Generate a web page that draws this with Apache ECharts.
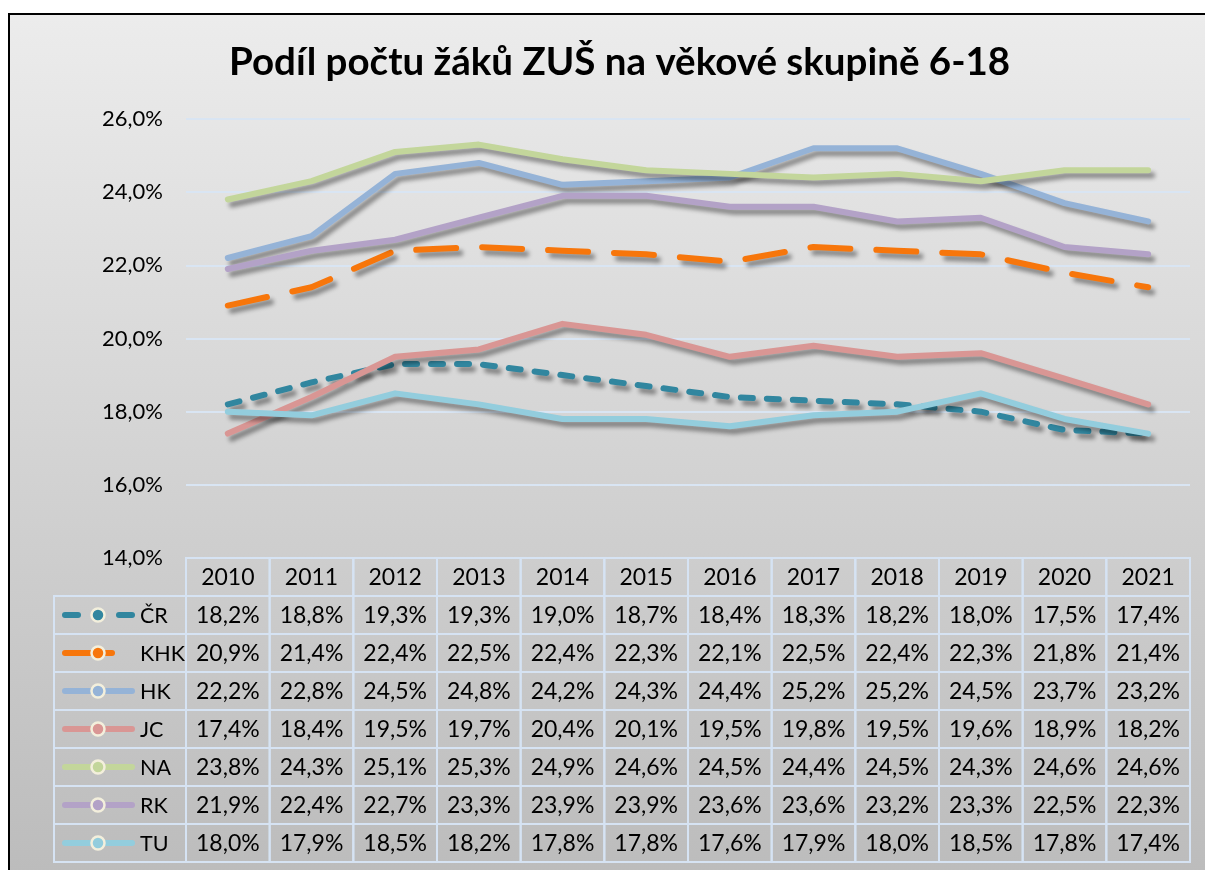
<!DOCTYPE html>
<html>
<head>
<meta charset="utf-8">
<script src="https://cdn.jsdelivr.net/npm/echarts@6/dist/echarts.min.js"></script>
<style>
html, body { margin: 0; padding: 0; background: #fff; overflow: hidden; }
#bg { position: fixed; left: 8px; top: 13px; right: -300px; bottom: -300px; border: 2px solid #000;
      background: linear-gradient(to bottom, #ececec 0px, #bcbcbc 857px, #bcbcbc 100%); }
#main { position: absolute; left: 0; top: 0; width: 1205px; height: 870px; }
</style>
</head>
<body>
<div id="bg"></div>
<div id="main"></div>
<script>
// data
var roky = ['2010','2011','2012','2013','2014','2015','2016','2017','2018','2019','2020','2021'];
var nazvy = ['ČR','KHK','HK','JC','NA','RK','TU'];
var CR  = [18.2, 18.8, 19.3, 19.3, 19.0, 18.7, 18.4, 18.3, 18.2, 18.0, 17.5, 17.4];
var KHK = [20.9, 21.4, 22.4, 22.5, 22.4, 22.3, 22.1, 22.5, 22.4, 22.3, 21.8, 21.4];
var HK  = [22.2, 22.8, 24.5, 24.8, 24.2, 24.3, 24.4, 25.2, 25.2, 24.5, 23.7, 23.2];
var JC  = [17.4, 18.4, 19.5, 19.7, 20.4, 20.1, 19.5, 19.8, 19.5, 19.6, 18.9, 18.2];
var NA  = [23.8, 24.3, 25.1, 25.3, 24.9, 24.6, 24.5, 24.4, 24.5, 24.3, 24.6, 24.6];
var RK  = [21.9, 22.4, 22.7, 23.3, 23.9, 23.9, 23.6, 23.6, 23.2, 23.3, 22.5, 22.3];
var TU  = [18.0, 17.9, 18.5, 18.2, 17.8, 17.8, 17.6, 17.9, 18.0, 18.5, 17.8, 17.4];
var osaMin = 14, osaMax = 26, osaKrok = 2;

// styles
var barvy = ['#31869f', '#f7760b', '#95b3d7', '#d99694', '#c3d69b', '#b3a2c7', '#93cddd'];
var typyCar = [[12, 14], [40, 26], 'solid', 'solid', 'solid', 'solid', 'solid'];
var pismo = 'Lato, "Open Sans", sans-serif';
var ramecek = '#d6e3f3';

var fmt = function (v) {
	return v.toFixed(1).replace('.', ',') + '%';
};

var graf = function () {
	var myChart = echarts.init(document.getElementById('main'));
	var radky = [CR, KHK, HK, JC, NA, RK, TU];

	// lines
	var series = [];
	for (var i = 0; i < nazvy.length; i++) {
		series.push({
			name: nazvy[i],
			type: 'line',
			xAxisIndex: 0,
			yAxisIndex: 0,
			data: radky[i],
			symbol: 'none',
			z: 3 + i,
			lineStyle: {
				color: barvy[i],
				width: 6,
				type: typyCar[i],
				cap: 'round',
				join: 'round',
				shadowColor: 'rgba(0,0,0,0.4)',
				shadowBlur: 4,
				shadowOffsetX: 4,
				shadowOffsetY: 5
			}
		});
	}

	// data table cells (row 0 = years)
	var bunky = [];
	roky.forEach(function (r, i) { bunky.push([i, 0, 0]); });
	radky.forEach(function (row, s) {
		row.forEach(function (v, i) { bunky.push([i, s + 1, v]); });
	});
	series.push({
		type: 'custom',
		xAxisIndex: 1,
		yAxisIndex: 1,
		data: bunky,
		renderItem: function (params, api) {
			var x = api.value(0), r = api.value(1);
			var c = api.coord([x, r]);
			var sz = api.size([1, 1]);
			var txt = r === 0 ? roky[x] : fmt(api.value(2));
			return {
				type: 'group',
				children: [{
					type: 'rect',
					shape: { x: c[0] - sz[0] / 2, y: c[1] - sz[1] / 2, width: sz[0], height: sz[1] },
					style: { fill: 'none', stroke: ramecek, lineWidth: 2 }
				}, {
					type: 'text',
					style: { text: txt, x: c[0], y: c[1] + 1, align: 'center', verticalAlign: 'middle',
						fontSize: 23, fontFamily: pismo, fill: '#000' }
				}]
			};
		}
	});

	// legend column of the table
	var legenda = [];
	nazvy.forEach(function (n, s) { legenda.push([0, s + 1, s]); });
	series.push({
		type: 'custom',
		xAxisIndex: 1,
		yAxisIndex: 1,
		data: legenda,
		renderItem: function (params, api) {
			var c = api.coord([api.value(0), api.value(1)]);
			var sz = api.size([1, 1]);
			var s = api.value(2);
			var x0 = 54, x1 = c[0] - sz[0] / 2, yc = c[1];
			var col = barvy[s];
			var deti = [{
				type: 'rect',
				shape: { x: x0, y: yc - sz[1] / 2, width: x1 - x0, height: sz[1] },
				style: { fill: 'none', stroke: ramecek, lineWidth: 2 }
			}];
			var usek = function (a, b) {
				deti.push({ type: 'line', shape: { x1: a, y1: yc, x2: b, y2: yc },
					style: { stroke: col, lineWidth: 6, lineCap: 'round' } });
			};
			if (s === 0) { usek(65, 78); usek(119, 132); }
			else if (s === 1) { usek(65, 112); }
			else { usek(65, 132); }
			deti.push({ type: 'circle', shape: { cx: 98, cy: yc, r: 6.5 },
				style: { fill: col, stroke: '#f3efdc', lineWidth: 2.5 } });
			deti.push({ type: 'text', style: { text: nazvy[s], x: 140, y: yc + 1, align: 'left',
				verticalAlign: 'middle', fontSize: 21.5, fontFamily: pismo, fill: '#000' } });
			return { type: 'group', children: deti };
		}
	});

	var option = {
		animation: false,
		title: {
			text: 'Podíl počtu žáků ZUŠ na věkové skupině 6-18',
			left: 224,
			top: 38,
			textStyle: { fontFamily: pismo, fontWeight: 'bold', fontSize: 38.5, color: '#000' }
		},
		grid: [
			{ left: 186, top: 119, width: 1004, height: 439 },
			{ left: 186, top: 558, width: 1004, height: 304 }
		],
		xAxis: [
			{ type: 'category', gridIndex: 0, data: roky, boundaryGap: true, show: false },
			{ type: 'category', gridIndex: 1, data: roky, boundaryGap: true, show: false }
		],
		yAxis: [
			{
				type: 'value', gridIndex: 0, min: osaMin, max: osaMax, interval: osaKrok,
				axisLine: { show: false },
				axisTick: { show: false },
				axisLabel: { formatter: fmt, margin: 23, fontSize: 22, fontFamily: pismo, color: '#000' },
				splitLine: { show: true, lineStyle: { color: '#d9e5f3', width: 2 } }
			},
			{ type: 'category', gridIndex: 1, data: [''].concat(nazvy), inverse: true, show: false }
		],
		series: series
	};
	myChart.setOption(option);
};

graf();
</script>
</body>
</html>
